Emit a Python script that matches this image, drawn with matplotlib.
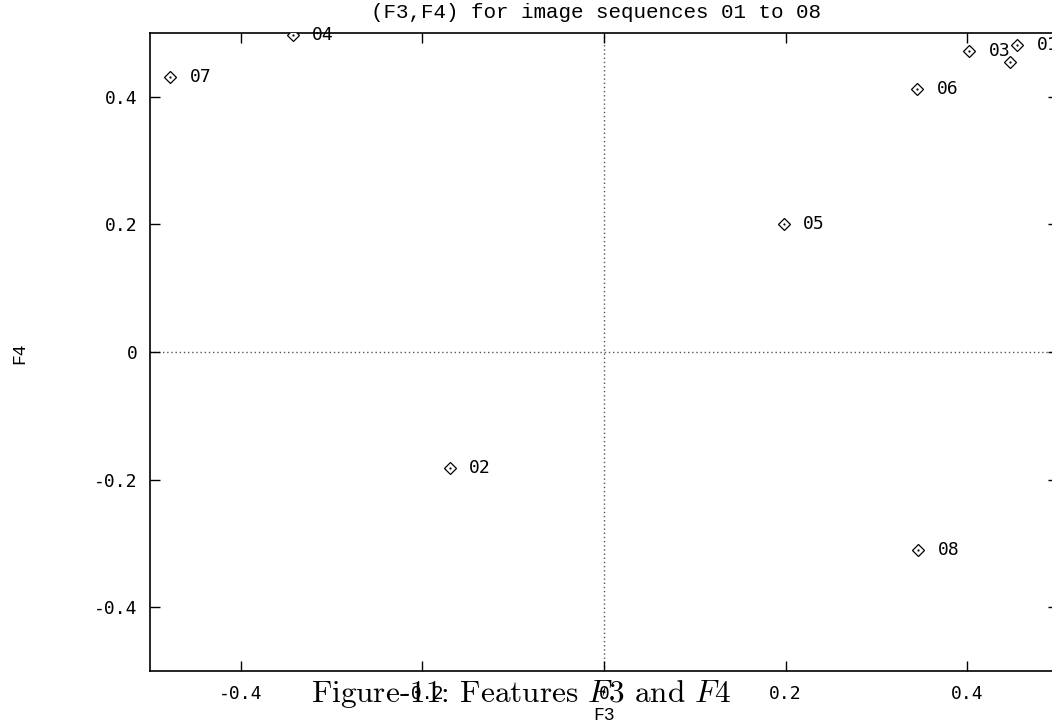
import numpy as np
import matplotlib
matplotlib.use('Agg')
import matplotlib.pyplot as plt
from matplotlib.ticker import FuncFormatter, FixedLocator

# Feature values per image sequence
seq_labels = ['01', '02', '03', '04', '05', '06', '07', '08', '']
f3_vals = [0.455, -0.170, 0.402, -0.343, 0.198, 0.345, -0.478, 0.346, 0.447]
f4_vals = [0.481, -0.182, 0.472, 0.497, 0.201, 0.412, 0.431, -0.311, 0.454]

xticks = [-0.4, -0.2, 0.0, 0.2, 0.4]
yticks = [-0.4, -0.2, 0.0, 0.2, 0.4]

plt.rcParams['mathtext.fontset'] = 'cm'
mono = 'DejaVu Sans Mono'
cour = 'Liberation Mono'

W, H = 1052, 727
fig = plt.figure(figsize=(W/100, H/100), dpi=100)
# axes run from x=150 to 1058 px (right edge falls off the image), y=33 to 671 px
ax = fig.add_axes([150/W, (H-671)/H, 908/W, 638/H])
ax.set_xlim(-0.5, 0.5)
ax.set_ylim(-0.5, 0.5)

# dotted zero axes
ax.axhline(0, color='#555555', lw=1, ls=(0, (1, 2)), zorder=1)
ax.axvline(0, color='#555555', lw=1, ls=(0, (1, 2)), zorder=1)

ax.plot(f3_vals, f4_vals, ls='none', marker='D', ms=6, mfc='white',
		mec='black', mew=0.9, zorder=3)
ax.plot(f3_vals, f4_vals, ls='none', marker='.', ms=1.2, color='black', zorder=4)

for lab, x, y in zip(seq_labels, f3_vals, f4_vals):
	if lab:
		ax.annotate(lab, (x, y), xytext=(14, 0), textcoords='offset points',
					va='center', ha='left', fontsize=13, family=mono, zorder=5)

fmt = FuncFormatter(lambda v, p: '0' if abs(v) < 1e-9 else ('%g' % v))
ax.xaxis.set_major_locator(FixedLocator(xticks))
ax.yaxis.set_major_locator(FixedLocator(yticks))
ax.xaxis.set_major_formatter(fmt)
ax.yaxis.set_major_formatter(fmt)
ax.tick_params(direction='in', length=7, width=1, top=True, right=True,
			   labelsize=13)
ax.tick_params(axis='x', pad=10)
ax.tick_params(axis='y', pad=9)
for lab in ax.get_xticklabels() + ax.get_yticklabels():
	lab.set_family(mono)
for s in ax.spines.values():
	s.set_linewidth(1.2)

fig.text(596/W, (H-12)/H, '(F3,F4) for image sequences 01 to 08',
		 ha='center', va='center', fontsize=15, family=cour)
fig.text(604/W, (H-715)/H, 'F3', ha='center', va='center', fontsize=13, family=cour)
fig.text(20/W, (H-353)/H, 'F4', ha='center', va='center', rotation=90,
		 fontsize=13, family=cour)

# caption overlapping the x tick labels
fig.text(521/W, (H-702)/H, r'Figure-11: Features $F3$ and $F4$',
		 ha='center', va='baseline', fontsize=22.5, family='cmr10')

fig.savefig('out.png', dpi=100)
